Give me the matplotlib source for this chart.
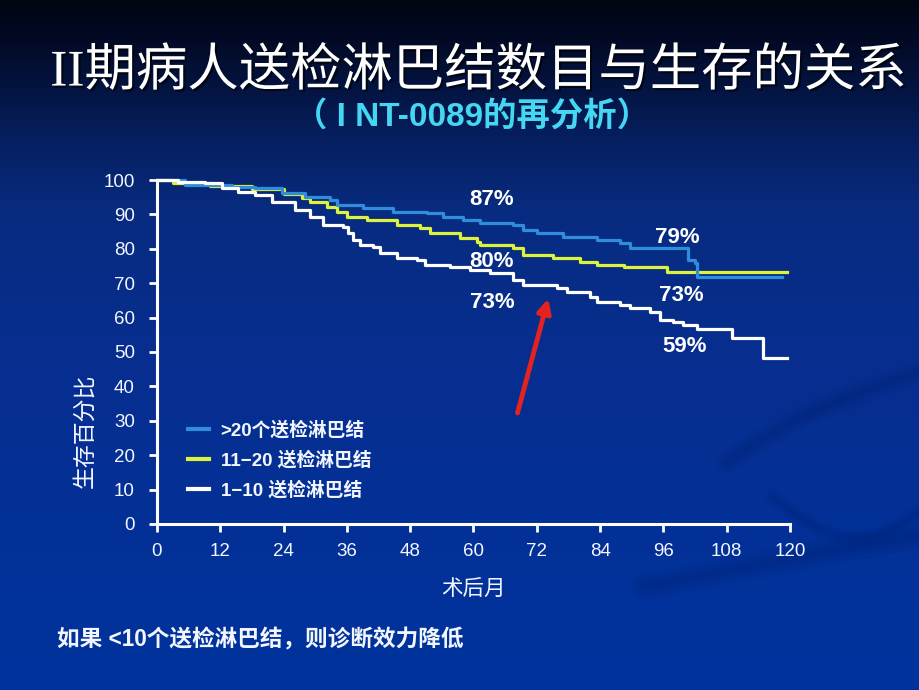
import numpy as np
import matplotlib
matplotlib.use("Agg")
import matplotlib.pyplot as plt
import matplotlib.patheffects as pe

# ---------------- data ----------------
months_gt20 = [0, 5.3, 14.2, 18.6, 23.7, 28.1, 32.8, 34.1, 39.1, 44.7, 51.2, 54.2, 58.0, 61.2, 67.5, 69.4, 72.0, 77.0, 83.4, 87.8, 89.7, 100.7, 102.0, 102.4, 118.5]
surv_gt20   = [100, 98.5, 98.0, 97.7, 96.2, 95.0, 94.2, 92.7, 91.9, 90.7, 90.4, 89.2, 88.4, 87.5, 86.9, 85.5, 84.6, 83.4, 82.6, 81.7, 80.2, 76.7, 75.9, 71.8, 71.8]

months_11_20 = [0, 3.0, 10.0, 18.0, 24.0, 27.5, 29.0, 32.2, 34.1, 36.0, 39.8, 45.5, 49.8, 51.8, 57.5, 60.7, 61.2, 67.5, 69.4, 75.1, 80.2, 83.4, 88.5, 96.6, 119.5]
surv_11_20   = [100, 99.0, 98.2, 97.5, 96.0, 94.8, 93.6, 92.2, 90.7, 89.2, 88.4, 86.9, 86.0, 84.6, 83.1, 82.0, 81.1, 80.2, 78.2, 77.3, 76.2, 75.3, 74.7, 73.2, 73.2]

months_1_10 = [0, 4.0, 9.1, 12.3, 15.4, 18.6, 21.8, 26.2, 29.0, 31.5, 35.3, 36.2, 37.2, 38.5, 40.9, 42.3, 45.5, 49.3, 50.8, 55.5, 59.3, 63.1, 67.5, 69.4, 75.8, 77.7, 82.1, 83.4, 87.8, 89.7, 93.5, 95.4, 97.8, 99.7, 102.4, 109.0, 114.9, 119.4]
surv_1_10   = [100, 99.5, 99.1, 97.7, 96.5, 95.6, 93.6, 91.3, 89.2, 87.0, 86.3, 84.5, 82.6, 81.1, 80.5, 78.8, 77.3, 76.7, 75.3, 74.7, 73.8, 73.0, 70.9, 69.5, 68.6, 67.4, 66.0, 64.5, 63.7, 62.8, 61.6, 59.3, 58.7, 57.8, 56.7, 54.0, 48.3, 48.3]

series_labels = [">20个送检淋巴结", "11\u221220 送检淋巴结", "1\u221210 送检淋巴结"]
x_ticks = [0, 12, 24, 36, 48, 60, 72, 84, 96, 108, 120]
y_ticks = [0, 10, 20, 30, 40, 50, 60, 70, 80, 90, 100]

pct_labels = ["87%", "80%", "73%", "79%", "73%", "59%"]
pct_x = [63.5, 63.5, 63.5, 98.6, 99.4, 100.1]
pct_y = [94.2, 76.2, 64.5, 83.4, 66.3, 51.7]

title = "II期病人送检淋巴结数目与生存的关系"
subtitle = "（ I NT-0089的再分析）"
note = "如果 <10个送检淋巴结，则诊断效力降低"

# ---------------- styles ----------------
FAM = ["Liberation Sans", "Noto Sans CJK SC"]
plt.rcParams["font.family"] = FAM
TXT = "#f2f6ff"

fig = plt.figure(figsize=(9.2, 6.9), dpi=100)

# background gradient
bg = fig.add_axes([0, 0, 1, 1], zorder=-10)
stops_y = [0.0, 0.06, 0.18, 0.30, 0.5, 1.0]
stops_c = np.array([[0.00, 0.02, 0.07],
                    [0.01, 0.04, 0.15],
                    [0.02, 0.11, 0.34],
                    [0.03, 0.17, 0.50],
                    [0.03, 0.18, 0.56],
                    [0.00, 0.20, 0.62]])
yy = np.linspace(0, 1, 400)
grad = np.stack([np.interp(yy, stops_y, stops_c[:, k]) for k in range(3)], axis=-1)
img = np.repeat(grad[:, None, :], 10, axis=1)
bg.imshow(img, aspect="auto", extent=[0, 1, 1, 0])
bg.set_xlim(0, 1)
bg.set_ylim(1, 0)
bg.axis("off")
# faint dark swooshes (decoration)
tt = np.linspace(0, 1, 60)
for lw, a in [(16, 0.06), (10, 0.08), (5, 0.08)]:
    bg.plot(0.79 + 0.23 * tt, 0.63 - 0.10 * tt + 0.04 * (1 - tt) ** 3,
            color="#001a55", lw=lw, alpha=a, solid_capstyle="round")
    bg.plot(0.70 + 0.32 * tt, 0.85 - 0.08 * tt,
            color="#001a55", lw=lw * 1.2, alpha=a, solid_capstyle="round")
    bg.plot(0.84 + 0.18 * tt, 0.72 + 0.06 * np.sin(np.pi * tt),
            color="#001a55", lw=lw * 0.7, alpha=a * 0.8, solid_capstyle="round")

# titles
fig.text(0.52, 0.895, title, ha="center", va="center", color="white",
         fontsize=37, family=["Liberation Serif", "Noto Sans CJK SC"],
         path_effects=[pe.withSimplePatchShadow(offset=(1.5, -1.5), shadow_rgbFace="black", alpha=0.6)])
fig.text(0.513, 0.829, subtitle, ha="center", va="center", color="#45d6f2",
         fontsize=24, fontweight="bold", family=["Liberation Sans Narrow", "Liberation Sans", "Noto Sans CJK SC"])

# main axes
ax = fig.add_axes([157 / 920, 1 - 524 / 690, 633 / 920, 344 / 690])
ax.set_facecolor("none")
ax.plot(months_gt20, surv_gt20, drawstyle="steps-post", color="#2f8ddb", lw=2.3, clip_on=False, label=series_labels[0], zorder=3)
ax.plot(months_11_20, surv_11_20, drawstyle="steps-post", color="#dcf23c", lw=2.3, clip_on=False, label=series_labels[1], zorder=2)
ax.plot(months_1_10, surv_1_10, drawstyle="steps-post", color="white", lw=2.3, clip_on=False, label=series_labels[2], zorder=4)

ax.set_xlim(0, 120)
ax.set_ylim(0, 100)
ax.set_xticks(x_ticks)
ax.set_yticks(y_ticks)
for s in ["top", "right"]:
    ax.spines[s].set_visible(False)
for s in ["left", "bottom"]:
    ax.spines[s].set_color("white")
    ax.spines[s].set_linewidth(2.2)
ax.tick_params(colors="white", width=2, length=6, labelsize=13.5, labelcolor=TXT)
ax.tick_params(axis="x", pad=8)
ax.tick_params(axis="y", pad=10)

for t, x, y in zip(pct_labels, pct_x, pct_y):
    ax.text(x, y, t, ha="center", va="center", color="white", fontsize=16, fontweight="bold")

ax.annotate("", xy=(74.3, 66.3), xytext=(68.2, 31.5),
            arrowprops=dict(arrowstyle="-|>", color="#e3231f", lw=3.5, mutation_scale=20))

ax.set_ylabel("生存百分比", color=TXT, fontsize=16.5)
ax.yaxis.set_label_coords(-0.096, 0.27)
ax.set_xlabel("术后月", color=TXT, fontsize=15.5, labelpad=14)

leg = ax.legend(loc="upper left", bbox_to_anchor=(0.022, 0.35), frameon=False,
                handlelength=1.15, handletextpad=0.6, labelspacing=0.62,
                prop=dict(family=FAM, size=13.5, weight="bold"))
for t in leg.get_texts():
    t.set_color(TXT)
for l in leg.get_lines():
    l.set_linewidth(3)

fig.text(57 / 920, 1 - 640 / 690, note, ha="left", va="center", color=TXT,
         fontsize=16.3, fontweight="bold")

fig.savefig("out.png", dpi=100)
